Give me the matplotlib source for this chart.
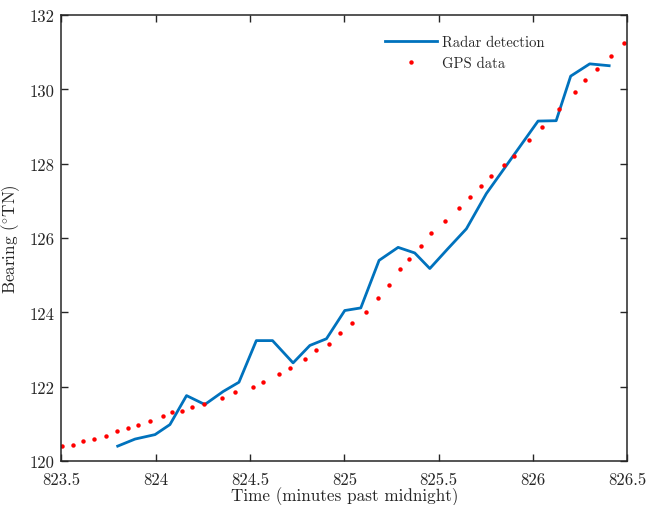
import numpy as np
import matplotlib
matplotlib.use('Agg')
import matplotlib.pyplot as plt

plt.rcParams['font.family'] = 'serif'
plt.rcParams['font.serif'] = ['cmr10', 'DejaVu Serif']
plt.rcParams['mathtext.fontset'] = 'cm'
plt.rcParams['axes.unicode_minus'] = False

# radar detections (time in minutes past midnight, bearing in deg TN)
radar_t = [823.798, 823.890, 823.996, 824.075, 824.163, 824.260, 824.357, 824.441,
           824.533, 824.619, 824.728, 824.817, 824.905, 825.002, 825.087, 825.184,
           825.285, 825.373, 825.453, 825.548, 825.647, 825.753, 825.850, 825.940,
           826.027, 826.123, 826.200, 826.301, 826.404]
radar_b = [120.40, 120.59, 120.71, 120.98, 121.76, 121.52, 121.87, 122.12,
           123.24, 123.24, 122.64, 123.11, 123.29, 124.05, 124.12, 125.40,
           125.75, 125.60, 125.18, 125.71, 126.25, 127.20, 127.89, 128.53,
           129.15, 129.16, 130.36, 130.69, 130.64]

# GPS track
gps_t = [823.501, 823.563, 823.616, 823.672, 823.735, 823.793, 823.850, 823.907,
         823.969, 824.036, 824.086, 824.140, 824.194, 824.257, 824.349, 824.418,
         824.513, 824.569, 824.652, 824.709, 824.789, 824.847, 824.919, 824.979,
         825.041, 825.114, 825.178, 825.239, 825.294, 825.342, 825.408, 825.458,
         825.531, 825.609, 825.668, 825.722, 825.775, 825.847, 825.898, 825.981,
         826.048, 826.138, 826.223, 826.278, 826.342, 826.412, 826.483]
gps_b = [120.41, 120.44, 120.53, 120.58, 120.68, 120.80, 120.89, 120.98,
         121.07, 121.22, 121.31, 121.35, 121.44, 121.53, 121.70, 121.85,
         122.00, 122.12, 122.33, 122.49, 122.74, 122.98, 123.15, 123.44,
         123.72, 124.02, 124.39, 124.75, 125.18, 125.44, 125.78, 126.13,
         126.46, 126.82, 127.11, 127.39, 127.67, 127.96, 128.21, 128.63,
         128.99, 129.47, 129.92, 130.25, 130.56, 130.91, 131.25]

xticks = [823.5, 824, 824.5, 825, 825.5, 826, 826.5]
xticklabels = ['823.5', '824', '824.5', '825', '825.5', '826', '826.5']
yticks = [120, 122, 124, 126, 128, 130, 132]

fig = plt.figure(figsize=(6.48, 5.06), dpi=100)
ax = fig.add_axes([0.0949, 0.087, 0.8731, 0.881])

ax.plot(radar_t, radar_b, color='#0072BD', lw=2, label='Radar detection')
ax.plot(gps_t, gps_b, ls='none', marker='o', ms=3.2, color='#FF0000',
        mec='none', label='GPS data')

ax.set_xlim(823.5, 826.5)
ax.set_ylim(120, 132)
ax.set_xticks(xticks)
ax.set_xticklabels(xticklabels)
ax.set_yticks(yticks)
ax.tick_params(direction='in', top=True, right=True, length=5, width=1,
               colors='#262626', labelsize=12)
ax.tick_params(axis='x', pad=8)
ax.tick_params(axis='y', pad=5)
for s in ax.spines.values():
    s.set_color('#262626')
    s.set_linewidth(1.1)

ax.set_xlabel('Time (minutes past midnight)', fontsize=12.3, color='#262626', labelpad=-1)
ax.set_ylabel(r'Bearing ($^{\circ}$TN)', fontsize=12.3, color='#262626', labelpad=5)

leg = ax.legend(loc='upper left', bbox_to_anchor=(0.561, 0.968), frameon=False,
                fontsize=10.5, handlelength=3.6, handletextpad=0.35,
                labelspacing=0.5, borderaxespad=0)
for t in leg.get_texts():
    t.set_color('#262626')

fig.savefig('out.png', dpi=100)
